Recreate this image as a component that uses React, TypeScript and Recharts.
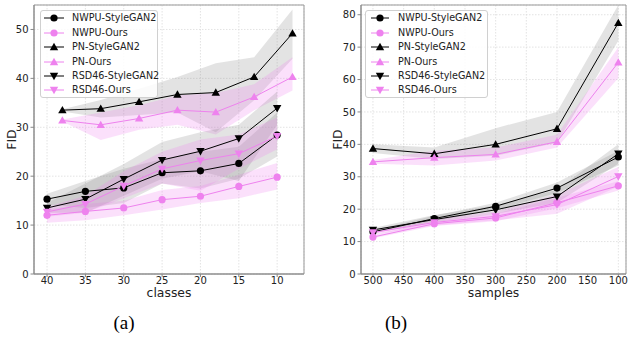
import React from "react";
import {
  ComposedChart,
  Line,
  Area,
  XAxis,
  YAxis,
  CartesianGrid,
  ReferenceArea,
} from "recharts";

// x positions
const classes = [40, 35, 30, 25, 20, 15, 10];
const classesPN = [38, 33, 28, 23, 18, 13, 8];
const samples = [500, 400, 300, 200, 100];

const classTicks = [40, 35, 30, 25, 20, 15, 10];
const sampleTicks = [500, 450, 400, 350, 300, 250, 200, 150, 100];
const fidTicksA = [0, 10, 20, 30, 40, 50];
const fidTicksB = [0, 10, 20, 30, 40, 50, 60, 70, 80];

// (a) FID vs classes
const nwpuGanA = [15.3, 16.9, 17.6, 20.7, 21.1, 22.6, 28.4];
const nwpuGanABand = [[14.2, 16.4], [13.5, 19], [14.5, 21.5], [18.5, 23.5], [17.5, 25], [19.5, 26], [24, 33]];
const nwpuOursA = [12.0, 12.8, 13.5, 15.2, 15.9, 17.9, 19.8];
const nwpuOursABand = [[10.5, 13.2], [11, 14.3], [12, 15], [13.2, 17.2], [14.5, 18], [15.5, 20.3], [17.3, 22.7]];
const pnGanA = [33.5, 33.8, 35.2, 36.7, 37.1, 40.3, 49.2];
const pnGanABand = [[33.2, 33.7], [32, 35.6], [32.5, 37.9], [33, 40.3], [29, 43.1], [35.5, 44.3], [44, 54.1]];
const pnOursA = [31.4, 30.5, 31.8, 33.5, 33.1, 36.2, 40.3];
const pnOursABand = [[31.2, 31.6], [27.4, 33], [29.5, 34.5], [30.5, 36.5], [28.5, 37], [33.5, 38.8], [37.5, 44.3]];
const rsdGanA = [13.5, 15.3, 19.4, 23.3, 25.1, 27.7, 33.9];
const rsdGanABand = [[12.5, 14.5], [12.5, 18.5], [16, 22.5], [19.5, 27], [21, 29], [19, 30.5], [30.5, 37.3]];
const rsdOursA = [12.7, 14.3, 18.0, 21.5, 23.2, 24.6, 28.2];
const rsdOursABand = [[11.7, 13.7], [12.5, 16], [15.5, 21], [18.5, 25], [17, 27.5], [21.5, 28.5], [25.5, 32]];

// (b) FID vs samples
const nwpuGanB = [13.0, 17.1, 20.9, 26.5, 36.1];
const nwpuGanBBand = [[12.6, 13.5], [16.3, 18], [19.8, 22], [25, 28.2], [33.5, 38]];
const nwpuOursB = [11.4, 15.5, 17.3, 22.0, 27.2];
const nwpuOursBBand = [[11, 12], [14.8, 16.3], [16.3, 18.6], [20.3, 23.5], [25.8, 28.6]];
const pnGanB = [38.7, 37.1, 40.0, 44.8, 77.5];
const pnGanBBand = [[37.3, 40], [35.5, 39], [36.5, 45], [40.5, 50], [72, 83]];
const pnOursB = [34.6, 35.9, 36.9, 40.8, 65.3];
const pnOursBBand = [[34, 35.2], [33.5, 38], [35, 39], [39, 43], [60.5, 70]];
const rsdGanB = [13.6, 16.8, 19.8, 23.9, 37.1];
const rsdGanBBand = [[13, 14.2], [16, 18.2], [18.6, 21.2], [22, 26], [34, 40]];
const rsdOursB = [12.8, 15.9, 17.8, 21.4, 30.1];
const rsdOursBBand = [[12.2, 13.4], [15, 17], [16.6, 19.3], [18.6, 24.5], [27, 33]];

const names = [
  "NWPU-StyleGAN2",
  "NWPU-Ours",
  "PN-StyleGAN2",
  "PN-Ours",
  "RSD46-StyleGAN2",
  "RSD46-Ours",
];

const BLACK = "#000000";
const VIOLET = "#ee82ee";
const FONT = "'DejaVu Sans', sans-serif";

type Shape = "circle" | "up" | "down";

const styles: { color: string; band: string; shape: Shape }[] = [
  { color: BLACK, band: "#808080", shape: "circle" },
  { color: VIOLET, band: VIOLET, shape: "circle" },
  { color: BLACK, band: "#808080", shape: "up" },
  { color: VIOLET, band: VIOLET, shape: "up" },
  { color: BLACK, band: "#808080", shape: "down" },
  { color: VIOLET, band: VIOLET, shape: "down" },
];

const rows = (xs: number[], ys: number[], band: number[][]) =>
  xs.map((x, i) => ({ x, y: ys[i], band: band[i] }));

const seriesA = [
  rows(classes, nwpuGanA, nwpuGanABand),
  rows(classes, nwpuOursA, nwpuOursABand),
  rows(classesPN, pnGanA, pnGanABand),
  rows(classesPN, pnOursA, pnOursABand),
  rows(classes, rsdGanA, rsdGanABand),
  rows(classes, rsdOursA, rsdOursABand),
];

const seriesB = [
  rows(samples, nwpuGanB, nwpuGanBBand),
  rows(samples, nwpuOursB, nwpuOursBBand),
  rows(samples, pnGanB, pnGanBBand),
  rows(samples, pnOursB, pnOursBBand),
  rows(samples, rsdGanB, rsdGanBBand),
  rows(samples, rsdOursB, rsdOursBBand),
];

function Marker({ shape, cx, cy, color }: { shape: Shape; cx: number; cy: number; color: string }) {
  if (shape === "circle") return <circle cx={cx} cy={cy} r={3.6} fill={color} />;
  const h = 4.2;
  const pts =
    shape === "up"
      ? `${cx},${cy - h} ${cx - h},${cy + h * 0.75} ${cx + h},${cy + h * 0.75}`
      : `${cx},${cy + h} ${cx - h},${cy - h * 0.75} ${cx + h},${cy - h * 0.75}`;
  return <polygon points={pts} fill={color} />;
}

function LegendBox({ left, top, width, lineX, lineW, textX }: any) {
  return (
    <div
      style={{
        position: "absolute",
        left,
        top,
        width,
        height: 88,
        boxSizing: "border-box",
        border: "1px solid #d0d0d0",
        borderRadius: 3,
        background: "rgba(255,255,255,0.85)",
      }}
    >
      {names.map((n, i) => (
        <div key={n}>
          <svg
            width={lineW + 2}
            height={12}
            style={{ position: "absolute", left: lineX - 1, top: 7.3 + i * 14.4 - 6 }}
          >
            <line x1={1} x2={lineW + 1} y1={6} y2={6} stroke={styles[i].color} strokeWidth={1} />
            <Marker shape={styles[i].shape} cx={lineW / 2 + 1} cy={6} color={styles[i].color} />
          </svg>
          <span
            style={{
              position: "absolute",
              left: textX,
              top: 7.3 + i * 14.4 - 6,
              lineHeight: "12px",
              fontSize: 9.6,
              fontFamily: FONT,
              color: "#222",
              whiteSpace: "nowrap",
            }}
          >
            {n}
          </span>
        </div>
      ))}
    </div>
  );
}

function Panel({
  series,
  xDomain,
  xTicks,
  yDomain,
  yTicks,
  xLabel,
  width,
  labelOffset,
}: any) {
  const tick = { fontSize: 10, fontFamily: FONT, fill: "#222" };
  return (
    <ComposedChart
      width={width}
      height={300}
      margin={{ top: 5, right: 2, left: 0, bottom: 0 }}
    >
      <CartesianGrid stroke="#dcdcdc" strokeDasharray="1.5 1.5" strokeWidth={0.8} />
      <XAxis
        dataKey="x"
        type="number"
        domain={xDomain}
        ticks={xTicks}
        reversed
        allowDataOverflow
        height={26}
        tick={tick}
        tickSize={3}
        tickMargin={0}
        stroke="#888"
        label={{ value: xLabel, position: "insideBottom", offset: 3, style: { fontSize: 12.4, fontFamily: FONT, fill: "#222" } }}
      />
      <YAxis
        type="number"
        domain={yDomain}
        ticks={yTicks}
        allowDataOverflow
        width={34}
        tick={tick}
        tickSize={3.5}
        tickMargin={2}
        stroke="#888"
        label={{
          value: "FID",
          angle: -90,
          position: "insideLeft",
          offset: labelOffset,
          style: { fontSize: 12.4, fontFamily: FONT, fill: "#222", textAnchor: "middle" },
        }}
      />
      {series.map((d: any, i: number) => (
        <Area
          key={"band" + i}
          data={d}
          dataKey="band"
          type="linear"
          stroke="none"
          fill={styles[i].band}
          fillOpacity={styles[i].color === BLACK ? 0.22 : 0.25}
          isAnimationActive={false}
          dot={false}
          activeDot={false}
        />
      ))}
      {series.map((d: any, i: number) => (
        <Line
          key={"line" + i}
          data={d}
          dataKey="y"
          type="linear"
          stroke={styles[i].color}
          strokeWidth={1}
          isAnimationActive={false}
          activeDot={false}
          dot={(p: any) => (
            <Marker key={p.index} shape={styles[i].shape} cx={p.cx} cy={p.cy} color={styles[i].color} />
          )}
        />
      ))}
      <ReferenceArea
        x1={xDomain[0]}
        x2={xDomain[1]}
        y1={yDomain[0]}
        y2={yDomain[1]}
        fill="none"
        stroke="#999"
        strokeWidth={1}
        ifOverflow="visible"
      />
    </ComposedChart>
  );
}

export default function App() {
  return (
    <div style={{ position: "absolute", left: 0, top: 0, width: 628, height: 341, background: "#fff" }}>
      <div style={{ position: "absolute", left: 0, top: 0 }}>
        <Panel
          series={seriesA}
          xDomain={[6.5, 41.7]}
          xTicks={classTicks}
          yDomain={[0, 55]}
          yTicks={fidTicksA}
          xLabel="classes"
          width={306}
          labelOffset={12}
        />
      </div>
      <div style={{ position: "absolute", left: 327, top: 0 }}>
        <Panel
          series={seriesB}
          xDomain={[87.5, 519.5]}
          xTicks={sampleTicks}
          yDomain={[0, 83]}
          yTicks={fidTicksB}
          xLabel="samples"
          width={301}
          labelOffset={11}
        />
      </div>
      <LegendBox left={40} top={10} width={118} lineX={3} lineW={20} textX={31} />
      <LegendBox left={365} top={10} width={123} lineX={5} lineW={18} textX={32} />
      <div style={{ position: "absolute", left: 104, top: 310, width: 40, textAlign: "center", fontFamily: "'Liberation Serif', serif", fontSize: 19, lineHeight: "26px" }}>(a)</div>
      <div style={{ position: "absolute", left: 376, top: 310, width: 40, textAlign: "center", fontFamily: "'Liberation Serif', serif", fontSize: 19, lineHeight: "26px" }}>(b)</div>
    </div>
  );
}
